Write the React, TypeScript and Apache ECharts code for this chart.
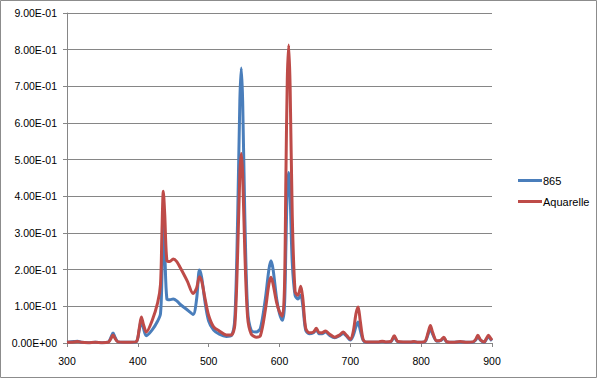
import React, { useEffect, useRef } from "react";
import * as echarts from "echarts";

const wavelengths = [
  300, 310, 315, 320, 330, 340, 350, 358, 362, 365, 368, 372, 380, 390, 398, 402, 405, 408, 412, 420,
  428, 432, 434, 436, 438, 441, 445, 450, 455, 460, 470, 478, 483, 487, 490, 495, 500, 507, 515, 525,
  532, 537, 541, 544, 546, 548, 551, 555, 560, 567, 573, 580, 585, 588, 591, 596, 600, 604, 607, 609,
  611, 613, 615, 618, 622, 626, 630, 633, 637, 642, 648, 652, 656, 660, 665, 670, 678, 685, 690, 695,
  700, 704, 708, 711, 714, 718, 722, 730, 740, 745, 750, 757, 762, 767, 775, 785, 790, 795, 805, 810,
  813, 816, 822, 828, 832, 836, 845, 855, 865, 873, 877, 880, 884, 889, 892, 895, 898, 900,
];

const values865 = [
  0.002, 0.004, 0.005, 0.002, 0.001, 0.002, 0.001, 0.002, 0.015, 0.027, 0.015, 0.003, 0.002, 0.002, 0.004, 0.035, 0.064, 0.04, 0.02, 0.035,
  0.06, 0.08, 0.18, 0.326, 0.25, 0.12, 0.118, 0.12, 0.115, 0.105, 0.09, 0.078, 0.12, 0.199, 0.18, 0.11, 0.06, 0.035, 0.024, 0.018,
  0.02, 0.07, 0.35, 0.66, 0.75, 0.66, 0.35, 0.09, 0.035, 0.03, 0.04, 0.12, 0.2, 0.224, 0.2, 0.12, 0.08, 0.062, 0.1, 0.26,
  0.42, 0.465, 0.4, 0.22, 0.13, 0.12, 0.13, 0.1, 0.035, 0.025, 0.028, 0.036, 0.025, 0.025, 0.03, 0.022, 0.014, 0.02, 0.026, 0.018,
  0.008, 0.02, 0.045, 0.057, 0.035, 0.008, 0.002, 0.002, 0.002, 0.004, 0.002, 0.003, 0.016, 0.003, 0.002, 0.002, 0.003, 0.002, 0.003, 0.025,
  0.04, 0.025, 0.005, 0.007, 0.013, 0.003, 0.002, 0.003, 0.002, 0.002, 0.008, 0.017, 0.007, 0.002, 0.01, 0.017, 0.01, 0.006,
];

const valuesAquarelle = [
  0.002, 0.003, 0.004, 0.002, 0.001, 0.002, 0.001, 0.002, 0.012, 0.022, 0.012, 0.003, 0.002, 0.002, 0.004, 0.04, 0.071, 0.05, 0.03, 0.06,
  0.11, 0.16, 0.3, 0.414, 0.35, 0.225, 0.222, 0.229, 0.222, 0.205, 0.168, 0.135, 0.15, 0.181, 0.17, 0.12, 0.075, 0.044, 0.033, 0.022,
  0.022, 0.05, 0.25, 0.46, 0.517, 0.46, 0.25, 0.07, 0.025, 0.016, 0.02, 0.09, 0.16, 0.179, 0.16, 0.11, 0.085, 0.073, 0.15, 0.45,
  0.72, 0.813, 0.7, 0.35, 0.14, 0.13, 0.155, 0.12, 0.04, 0.028, 0.03, 0.04, 0.028, 0.028, 0.033, 0.025, 0.016, 0.022, 0.03, 0.02,
  0.01, 0.03, 0.08, 0.098, 0.06, 0.01, 0.003, 0.003, 0.003, 0.005, 0.003, 0.004, 0.02, 0.004, 0.003, 0.003, 0.004, 0.002, 0.004, 0.03,
  0.048, 0.03, 0.006, 0.008, 0.016, 0.004, 0.002, 0.004, 0.002, 0.003, 0.01, 0.021, 0.008, 0.003, 0.012, 0.021, 0.013, 0.008,
];

const seriesNames = ["865", "Aquarelle"];
const seriesColors = ["#4A7EBB", "#BE4B48"];

function sci(v: number): string {
  if (Math.abs(v) < 1e-12) return "0.00E+00";
  const s = v.toExponential(2);
  const [m, e] = s.split("e");
  const n = parseInt(e, 10);
  const sign = n < 0 ? "-" : "+";
  const abs = Math.abs(n);
  return m + "E" + sign + (abs < 10 ? "0" + abs : String(abs));
}

export default function App() {
  const ref = useRef<HTMLDivElement>(null);
  useEffect(() => {
    document.body.style.margin = "0";
    if (!ref.current) return;
    const chart = echarts.init(ref.current, undefined, { renderer: "svg" });
    const font = "'Liberation Sans', Arial, sans-serif";
    const d865 = wavelengths.map((x, i) => [x, values865[i]]);
    const dAq = wavelengths.map((x, i) => [x, valuesAquarelle[i]]);
    chart.setOption({
      animation: false,
      backgroundColor: "#ffffff",
      textStyle: { fontFamily: font },
      graphic: [
        {
          type: "rect",
          shape: { x: 0.5, y: 0.5, width: 596, height: 377 },
          style: { fill: "none", stroke: "#8c8c8c", lineWidth: 1 },
          silent: true,
        },
      ],
      grid: { left: 67, right: 108, top: 13, bottom: 37, containLabel: false },
      legend: {
        orient: "vertical",
        left: 513,
        top: 170,
        itemGap: 10,
        itemWidth: 24,
        itemHeight: 3,
        icon: "rect",
        textStyle: { fontSize: 11, color: "#000", fontFamily: font, padding: [0, 0, 0, -4] },
        data: seriesNames,
      },
      xAxis: {
        type: "value",
        min: 300,
        max: 900,
        interval: 100,
        axisLine: { show: true, lineStyle: { color: "#868686", width: 1 } },
        axisTick: { show: true, length: 4, inside: false, lineStyle: { color: "#868686" } },
        axisLabel: { fontSize: 10.5, color: "#000", margin: 12, fontFamily: font },
        splitLine: { show: false },
      },
      yAxis: {
        type: "value",
        min: 0,
        max: 0.9,
        interval: 0.1,
        axisLine: { show: true, lineStyle: { color: "#868686", width: 1 } },
        axisTick: { show: true, length: 4, inside: false, lineStyle: { color: "#868686" } },
        axisLabel: { fontSize: 10.5, color: "#000", margin: 10, fontFamily: font, formatter: (v: number) => sci(v) },
        splitLine: { show: true, lineStyle: { color: "#868686", width: 1 } },
      },
      series: [
        {
          name: seriesNames[0],
          type: "line",
          data: d865,
          smooth: 0.3,
          showSymbol: false,
          symbol: "none",
          lineStyle: { color: seriesColors[0], width: 3 },
          itemStyle: { color: seriesColors[0] },
        },
        {
          name: seriesNames[1],
          type: "line",
          data: dAq,
          smooth: 0.3,
          showSymbol: false,
          symbol: "none",
          lineStyle: { color: seriesColors[1], width: 3 },
          itemStyle: { color: seriesColors[1] },
        },
      ],
    });
    return () => chart.dispose();
  }, []);
  return <div ref={ref} style={{ position: "absolute", left: 0, top: 0, width: 600, height: 380 }} />;
}
